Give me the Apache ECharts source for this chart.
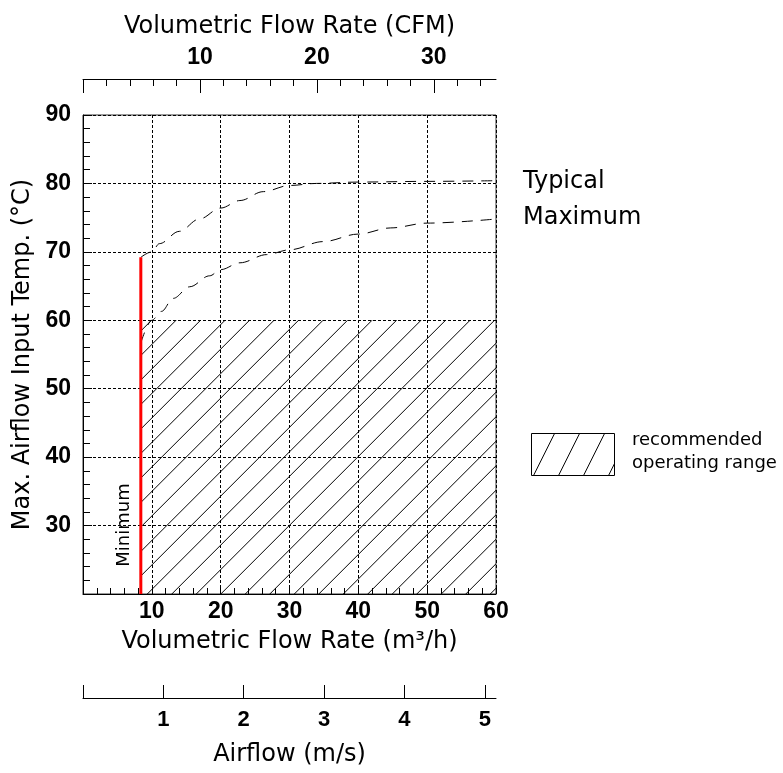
<!DOCTYPE html>
<html><head><meta charset="utf-8">
<script src="https://cdn.jsdelivr.net/npm/echarts@6/dist/echarts.min.js"></script>
<style>html,body{margin:0;padding:0;background:#fff}#c{width:783px;height:773px}</style>
</head><body><div id="c"></div>
<script>
// ---- data ----
const minFlow = 8.4;              // m3/h, "Minimum" red line
const minLineRange = [20, 69.2];  // °C
const typMaxX = [8.4, 10, 11.1, 14, 16.9, 20, 22.8, 26.2, 30, 33.9, 40, 50, 60];
const typMaxY = [69.2, 70, 71.2, 73.0, 74.8, 76.4, 77.5, 78.8, 79.7, 80.0, 80.2, 80.3, 80.4];
const lowX = [8.4, 10, 11.4, 13.1, 15.5, 18.4, 20, 22.8, 26.7, 30, 34.9, 40, 44.7, 50, 60];
const lowY = [56.7, 60, 61.3, 63.2, 64.9, 66.5, 67.4, 68.4, 69.6, 70.3, 71.5, 72.6, 73.5, 74.2, 74.8];
const rangeX = [8.4, 60];        // recommended operating range (m3/h)
const rangeTop = 60;             // °C
const cfmMajor = [0, 10, 20, 30];
const cfmLabels = [10, 20, 30];
const cfmMinor = [2, 4, 6, 8, 12, 14, 16, 18, 22, 24, 26, 28, 32, 34];
const airflowTicks = [0, 1, 2, 3, 4, 5];
const airflowLabels = [1, 2, 3, 4, 5];
const M3H_PER_CFM = 1.699;
const flowMax = 60;
const airflowMax = 5.14;

// ---- hatch patterns ----
function hatch(w, h, drawLines) {
  const cv = document.createElement('canvas'); cv.width = w; cv.height = h;
  const g = cv.getContext('2d'); g.strokeStyle = '#000'; g.lineWidth = 1;
  drawLines(g); return cv;
}
const areaHatch = hatch(49, 49, g => {
  for (let k = -3; k <= 6; k++) { const c = 6.3 + 24.5 * k; g.beginPath(); g.moveTo(c + 10, -10); g.lineTo(c - 70, 70); g.stroke(); }
});
const legendHatch = hatch(25, 50, g => {
  for (let k = -3; k <= 4; k++) { const c = 21.3 + 25 * k; g.beginPath(); g.moveTo(c + 5, -10); g.lineTo(c - 35, 70); g.stroke(); }
});

const numFont = { fontFamily: "'Liberation Sans Narrow', 'Liberation Sans'", fontWeight: 'bold', fontSize: 23, color: '#000' };
const nameFont = { fontFamily: 'DejaVu Sans', fontSize: 24, color: '#000' };
const black = { color: '#000', width: 1 };
const gridDash = { color: '#000', width: 1, type: [3, 2] };
const curveStyle = { color: '#000', width: 1, type: [11, 8] };

const chart = echarts.init(document.getElementById('c'), null, { renderer: 'canvas' });
chart.setOption({
  animation: false,
  backgroundColor: '#fff',
  grid: { left: 83, right: 287, top: 115, bottom: 179, show: true, borderColor: '#333', borderWidth: 1, backgroundColor: 'transparent' },
  xAxis: [
    { type: 'value', position: 'bottom', min: 0, max: flowMax, interval: 10,
      axisLine: { lineStyle: black }, axisTick: { inside: true, length: 9, lineStyle: black },
      minorTick: { show: true, splitNumber: 5, length: 6, lineStyle: black },
      splitLine: { show: true, lineStyle: gridDash },
      axisLabel: Object.assign({ margin: 6, formatter: v => v === 0 ? '' : String(v) }, numFont),
      name: 'Volumetric Flow Rate (m³/h)', nameLocation: 'middle', nameGap: 36, nameTextStyle: nameFont },
    { type: 'value', position: 'top', offset: 36, min: 0, max: flowMax / M3H_PER_CFM, interval: 10,
      axisLine: { lineStyle: black }, axisTick: { inside: true, length: 14, lineStyle: black, customValues: cfmMajor },
      splitLine: { show: false },
      axisLabel: Object.assign({ margin: 10, customValues: cfmLabels }, numFont),
      name: 'Volumetric Flow Rate (CFM)', nameLocation: 'middle', nameGap: 40, nameTextStyle: nameFont },
    { type: 'value', position: 'top', offset: 36, min: 0, max: flowMax / M3H_PER_CFM, interval: 10,
      axisLine: { show: false }, axisTick: { inside: true, length: 7, lineStyle: black, customValues: cfmMinor },
      splitLine: { show: false }, axisLabel: { show: false } },
    { type: 'value', position: 'bottom', offset: 104, min: 0, max: airflowMax, interval: 1,
      axisLine: { lineStyle: black }, axisTick: { inside: true, length: 13, lineStyle: black, customValues: airflowTicks },
      splitLine: { show: false },
      axisLabel: Object.assign({ margin: 11, customValues: airflowLabels }, numFont, { fontSize: 22 }),
      name: 'Airflow (m/s)', nameLocation: 'middle', nameGap: 45, nameTextStyle: nameFont }
  ],
  yAxis: [
    { type: 'value', min: 20, max: 90, interval: 10,
      axisLine: { lineStyle: black }, axisTick: { inside: true, length: 9, lineStyle: black },
      minorTick: { show: true, splitNumber: 5, length: 7, lineStyle: black },
      splitLine: { show: true, lineStyle: gridDash },
      axisLabel: Object.assign({ margin: 12, formatter: v => v === 20 ? '' : String(v) }, numFont),
      name: 'Max. Airflow Input Temp. (°C)', nameLocation: 'middle', nameGap: 40, nameTextStyle: nameFont }
  ],
  series: [
    { name: 'recommended operating range', type: 'line', xAxisIndex: 0, yAxisIndex: 0, silent: true,
      data: rangeX.map(x => [x, rangeTop]), symbol: 'none', lineStyle: { width: 0 },
      areaStyle: { origin: 'start', opacity: 1, color: { image: areaHatch, repeat: 'repeat' } }, z: 2 },
    { name: 'Typical Maximum (upper)', type: 'line', xAxisIndex: 0, yAxisIndex: 0, silent: true,
      data: typMaxX.map((x, i) => [x, typMaxY[i]]), symbol: 'none', smooth: 0.35, smoothMonotone: 'x',
      lineStyle: curveStyle, z: 3 },
    { name: 'Typical Maximum (lower)', type: 'line', xAxisIndex: 0, yAxisIndex: 0, silent: true,
      data: lowX.map((x, i) => [x, lowY[i]]), symbol: 'none', smooth: 0.35, smoothMonotone: 'x',
      lineStyle: curveStyle, z: 3 },
    { name: 'Minimum', type: 'line', xAxisIndex: 0, yAxisIndex: 0, silent: true,
      data: minLineRange.map(y => [minFlow, y]), symbol: 'none',
      lineStyle: { color: '#ff0000', width: 3 }, z: 5 }
  ],
  graphic: [
    { type: 'text', x: 523, y: 164, style: { text: 'Typical\nMaximum', fontFamily: 'DejaVu Sans', fontSize: 24, lineHeight: 36, fill: '#000' } },
    { type: 'rect', shape: { x: 531.5, y: 433.5, width: 83, height: 42 }, style: { fill: { image: legendHatch, repeat: 'repeat' }, stroke: '#000', lineWidth: 1 } },
    { type: 'text', x: 632, y: 429, style: { text: 'recommended\noperating range', fontFamily: 'DejaVu Sans', fontSize: 18, lineHeight: 23, fill: '#000' } },
    { type: 'text', x: 124, y: 525, rotation: Math.PI / 2, style: { text: 'Minimum', fontFamily: 'DejaVu Sans', fontSize: 18, fill: '#000', align: 'center', verticalAlign: 'middle' } }
  ]
});
</script></body></html>
